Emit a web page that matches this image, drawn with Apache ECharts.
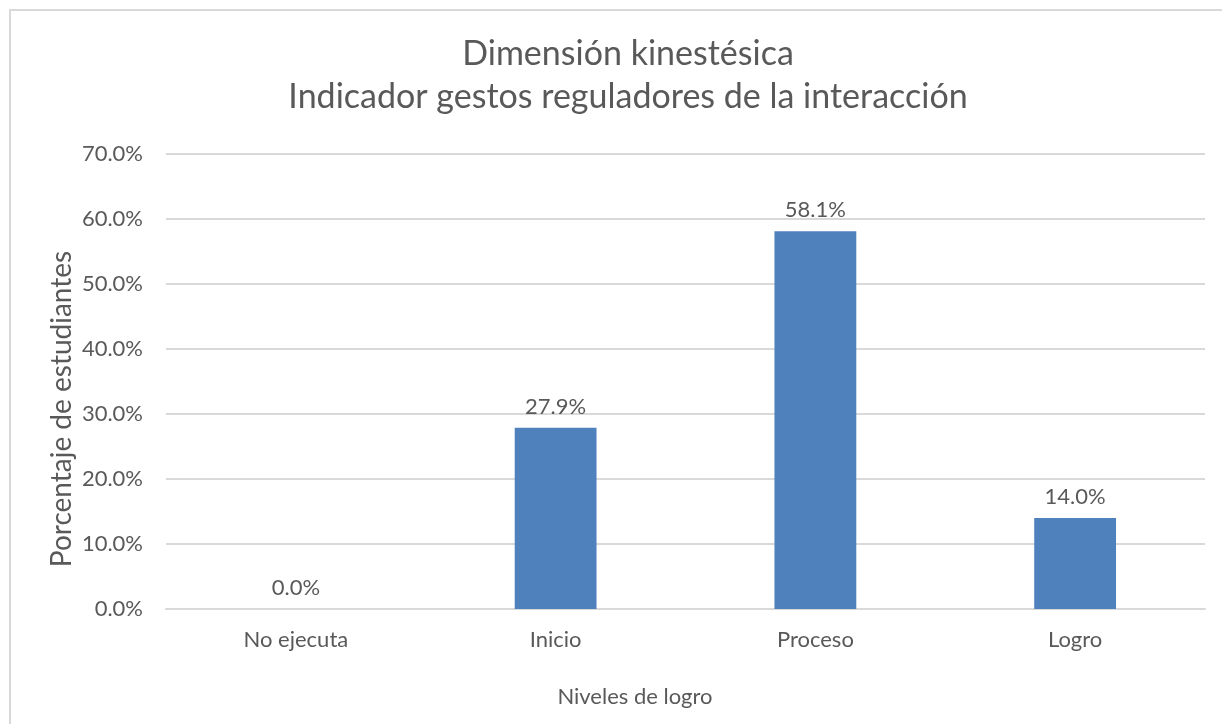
<!DOCTYPE html>
<html>
<head>
<meta charset="utf-8">
<script src="https://cdn.jsdelivr.net/npm/echarts@6/dist/echarts.min.js"></script>
<style>
	html, body { margin: 0; padding: 0; background: #fff; }
	#chart { width: 1222px; height: 724px; }
</style>
</head>
<body>
<div id="chart"></div>
<script>
	// datos
	var categorias = ['No ejecuta', 'Inicio', 'Proceso', 'Logro'];
	var porcentajes = [0.0, 27.9, 58.1, 14.0];
	var tituloLineas = ['Dimensión kinestésica', 'Indicador gestos reguladores de la interacción'];
	var nombreX = 'Niveles de logro';
	var nombreY = 'Porcentaje de estudiantes';

	var gris = '#595959';
	var fuente = 'Lato, "Open Sans", sans-serif';

	var myChart = echarts.init(document.getElementById('chart'));
	var option = {
		backgroundColor: '#fff',
		textStyle: { fontFamily: fuente },
		graphic: [{
			// marco del gráfico (recortado a la derecha y abajo)
			type: 'rect',
			shape: { x: 10, y: 10, width: 1300, height: 800 },
			style: { fill: 'none', stroke: '#d9d9d9', lineWidth: 2 },
			silent: true
		}, {
			type: 'text',
			x: 628,
			y: 33,
			style: {
				text: tituloLineas.join('\n'),
				fill: gris,
				font: '34px ' + fuente,
				lineHeight: 43,
				align: 'center',
				verticalAlign: 'top'
			}
		}, {
			type: 'text',
			x: 635,
			y: 697,
			style: {
				text: nombreX,
				fill: gris,
				font: '22px ' + fuente,
				align: 'center',
				verticalAlign: 'middle'
			}
		}, {
			type: 'text',
			x: 62,
			y: 409,
			rotation: Math.PI / 2,
			style: {
				text: nombreY,
				fill: gris,
				font: '28px ' + fuente,
				align: 'center',
				verticalAlign: 'middle'
			}
		}],
		grid: {
			left: 166,
			right: 17,
			top: 154,
			bottom: 115,
			containLabel: false
		},
		xAxis: {
			type: 'category',
			data: categorias,
			axisLine: { show: true, lineStyle: { color: '#d9d9d9', width: 2 } },
			axisTick: { show: false },
			axisLabel: { color: gris, fontSize: 22, margin: 20 }
		},
		yAxis: {
			type: 'value',
			min: 0,
			max: 70,
			interval: 10,
			axisLine: { show: false },
			axisTick: { show: false },
			splitLine: { lineStyle: { color: '#d9d9d9', width: 2 } },
			axisLabel: {
				color: gris,
				fontSize: 22,
				margin: 23,
				formatter: function (v) { return v.toFixed(1) + '%'; }
			}
		},
		series: [{
			type: 'bar',
			data: porcentajes,
			barWidth: '31.5%',
			itemStyle: { color: '#4f81bd' },
			label: {
				show: true,
				position: 'top',
				distance: 10,
				color: gris,
				fontSize: 22,
				formatter: function (p) { return p.value.toFixed(1) + '%'; }
			}
		}]
	};
	myChart.setOption(option);
</script>
</body>
</html>
